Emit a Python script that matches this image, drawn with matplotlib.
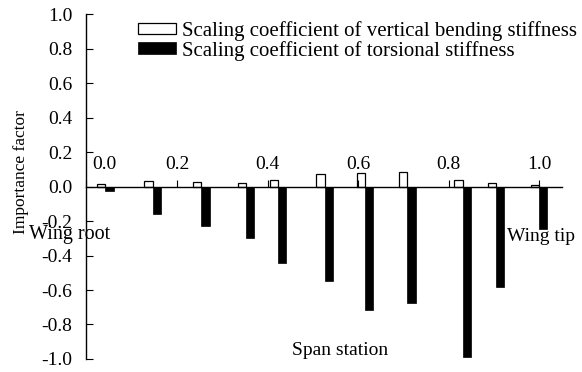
import matplotlib
matplotlib.use('Agg')
import matplotlib.pyplot as plt
import matplotlib.transforms as mtransforms
import numpy as np

plt.rcParams['font.family'] = ['Liberation Serif', 'DejaVu Serif']
plt.rcParams['font.size'] = 14

# span stations (group centres) and importance factors
station = [0.042, 0.146, 0.254, 0.353, 0.423, 0.526, 0.616, 0.709, 0.831, 0.905, 1.0]
bending = [0.012, 0.035, 0.025, 0.020, 0.037, 0.070, 0.080, 0.083, 0.040, 0.020, 0.008]
torsion = [-0.023, -0.158, -0.230, -0.300, -0.445, -0.548, -0.717, -0.674, -0.990, -0.583, -0.245]
xticks = [0.0, 0.2, 0.4, 0.6, 0.8, 1.0]
yticks = [-1.0, -0.8, -0.6, -0.4, -0.2, 0.0, 0.2, 0.4, 0.6, 0.8, 1.0]

fig = plt.figure(figsize=(5.82, 3.72), dpi=100)
ax = fig.add_axes([0.1486, 0.035, 0.8174, 0.927])

x = np.array(station)
w = 0.018
ax.bar(x - w / 2, bending, width=w, color='white', edgecolor='black', linewidth=0.9,
       label='Scaling coefficient of vertical bending stiffness')
ax.bar(x + w / 2, torsion, width=w, color='black', edgecolor='black', linewidth=0.5,
       label='Scaling coefficient of torsional stiffness')

ax.set_xlim(0, 1.051)
ax.set_ylim(-1.0, 1.0)

# x axis drawn at y = 0 with labels above
ax.spines['right'].set_visible(False)
ax.spines['bottom'].set_visible(False)
ax.spines['top'].set_position(('data', 0))
ax.spines['top'].set_linewidth(1.0)
ax.xaxis.tick_top()
ax.set_xticks(xticks)
ax.set_xticklabels(['%.1f' % t for t in xticks])
ax.tick_params(axis='x', direction='out', length=5, pad=5, labelsize=14)
lbls = ax.get_xticklabels()
lbls[0].set_transform(lbls[0].get_transform() +
                      mtransforms.ScaledTranslation(18 / 100, 0, fig.dpi_scale_trans))

ax.set_yticks(yticks)
ax.set_yticklabels(['%.1f' % t for t in yticks])
ax.tick_params(axis='y', direction='in', length=5, pad=10, labelsize=14)
ax.spines['left'].set_linewidth(1.0)
ax.set_ylabel('Importance factor', fontsize=12.5)
ax.yaxis.set_label_coords(-0.12, 0.543)

ax.text(-0.127, -0.28, 'Wing root', ha='left', va='center', fontsize=14.5)
ax.text(0.93, -0.29, 'Wing tip', ha='left', va='center', fontsize=14)
ax.text(0.56, -0.95, 'Span station', ha='center', va='center', fontsize=14)

ax.legend(loc='upper left', bbox_to_anchor=(138 / 582, 1 - 21 / 372),
          bbox_transform=fig.transFigure, frameon=False, borderpad=0,
          borderaxespad=0, handlelength=1.8, handleheight=0.5,
          handletextpad=0.3, labelspacing=0.0, fontsize=15)

fig.savefig('out.png', dpi=100)
